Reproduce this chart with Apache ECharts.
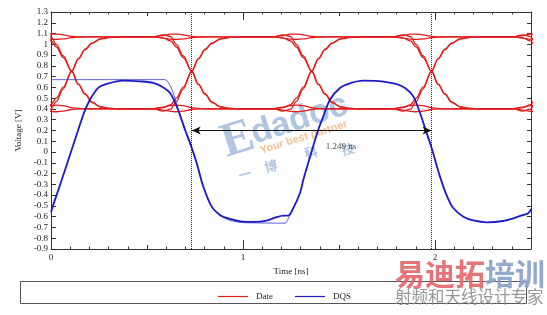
<!DOCTYPE html>
<html><head><meta charset="utf-8">
<script src="https://cdn.jsdelivr.net/npm/echarts@6/dist/echarts.min.js"></script>
<style>html,body{margin:0;padding:0;background:#fff}#c{width:547px;height:315px}</style>
</head><body><div id="c"></div>
<script>
// ---- data ----
const crossings = [0.108, 0.733, 1.358, 1.982, 2.607];      // red eye crossing times (ns)
const edgeOffsets = [-0.2,-0.15,-0.11,-0.08,-0.045,0,0.035,0.07,0.105,0.15,0.2,0.25];
const fallA   = [1.069,1.06,1.032,0.975,0.88,0.75,0.63,0.54,0.465,0.42,0.405,0.402];
const fallB   = [1.069,1.088,1.072,1.0,0.895,0.75,0.625,0.535,0.46,0.418,0.404,0.402];
const riseA   = [0.402,0.412,0.44,0.50,0.60,0.75,0.865,0.95,1.01,1.05,1.064,1.069];
const riseB   = [0.402,0.38,0.398,0.47,0.585,0.75,0.87,0.955,1.012,1.05,1.064,1.069];
const highUp  = [1.069,1.082,1.094,1.095,1.088,1.074,1.07,1.069,1.069,1.069,1.069,1.069];
const highDip = [1.069,1.058,1.048,1.045,1.05,1.062,1.067,1.069,1.069,1.069,1.069,1.069];
const lowDown = [0.402,0.39,0.378,0.374,0.38,0.395,0.4,0.402,0.402,0.402,0.402,0.402];
const lowUp   = [0.402,0.416,0.43,0.436,0.43,0.412,0.404,0.402,0.402,0.402,0.402,0.402];
const traceSpecs = [
  ['fallA','riseA','fallA','riseA','fallA'],
  ['riseA','fallA','riseA','fallA','riseA'],
  ['highUp','highUp','highUp','highUp','highUp'],
  ['lowDown','lowDown','lowDown','lowDown','lowDown'],
  ['highDip','fallB','lowUp','riseB','highDip'],
  ['lowUp','riseB','highDip','fallB','lowUp'],
  ['fallB','lowUp','riseB','highDip','fallB'],
  ['riseB','highDip','fallB','lowUp','riseB']
];
const dqsMeasured = [[0,-0.56],[0.01,-0.50],[0.05,-0.29],[0.10,-0.02],[0.142,0.207],[0.175,0.38],[0.203,0.486],[0.246,0.595],[0.29,0.632],[0.377,0.663],[0.464,0.656],[0.533,0.641],[0.585,0.60],[0.62,0.548],[0.655,0.424],[0.698,0.207],[0.733,0.04],[0.759,-0.103],[0.793,-0.32],[0.837,-0.507],[0.88,-0.584],[0.932,-0.621],[1.0,-0.646],[1.06,-0.648],[1.115,-0.64],[1.167,-0.609],[1.21,-0.59],[1.236,-0.59],[1.262,-0.52],[1.297,-0.38],[1.314,-0.26],[1.35,-0.04],[1.392,0.207],[1.418,0.33],[1.453,0.486],[1.505,0.595],[1.56,0.64],[1.627,0.663],[1.69,0.66],[1.748,0.65],[1.80,0.63],[1.844,0.595],[1.887,0.517],[1.922,0.362],[1.948,0.223],[1.982,0.04],[2.026,-0.228],[2.06,-0.40],[2.095,-0.52],[2.148,-0.60],[2.2,-0.635],[2.27,-0.652],[2.356,-0.64],[2.4,-0.62],[2.443,-0.593],[2.486,-0.568],[2.5,-0.53]];
const dqsIdeal = [[0,0.672],[0.594,0.672],[0.62,0.62],[0.646,0.50],[0.66,0.41],[0.698,0.207],[0.759,-0.103],[0.793,-0.32],[0.837,-0.507],[0.88,-0.59],[0.932,-0.635],[1.0,-0.655],[1.219,-0.66],[1.245,-0.58],[1.27,-0.49],[1.297,-0.38]];
const markerTimes = [0.733, 1.982];
const arrowLevel = 0.2;
const deltaLabel = ['1.249 ns', 1.51, 0.052];
const xLabelValues = [0, 1, 2];
const seriesNames = ['Date', 'DQS'];

// ---- build ----
const RED = '#e41c1c', BLUE = '#1a1ac8', SERIF = '"Liberation Serif","DejaVu Serif",serif';
const shapes = {fallA, fallB, riseA, riseB, highUp, highDip, lowDown, lowUp};
function buildTrace(spec){
  const pts = [];
  spec.forEach((name,k)=>{
    const c = crossings[k];
    edgeOffsets.forEach((o,i)=>pts.push([+(c+o).toFixed(4), shapes[name][i]]));
  });
  return pts;
}
const series = traceSpecs.map(spec=>({
  type:'line', name:seriesNames[0], data:buildTrace(spec), showSymbol:false, symbol:'none',
  smooth:0.35, smoothMonotone:'x', color:RED, lineStyle:{color:RED, width:1.3}, itemStyle:{color:RED}, z:2
}));
series.push({type:'line', name:seriesNames[1], data:dqsMeasured, symbol:'none', smooth:0.3, color:BLUE,
  lineStyle:{color:BLUE, width:1.8}, itemStyle:{color:BLUE}, z:4});
series.push({type:'line', name:seriesNames[1], data:dqsIdeal, symbol:'none', smooth:0.2, color:BLUE,
  lineStyle:{color:'#4a4ad8', width:0.9}, itemStyle:{color:BLUE}, z:3});
series.push({type:'scatter', name:'annot', data:[[deltaLabel[1], deltaLabel[2]]], symbolSize:0, z:5,
  label:{show:true, formatter:deltaLabel[0], position:'inside', color:'#111', fontFamily:SERIF, fontSize:9},
  markLine:{silent:true, symbol:'none', label:{show:false}, animation:false,
    lineStyle:{color:'#222', type:'dotted', width:1},
    data: markerTimes.map(t=>({xAxis:t})).concat([[
      {coord:[markerTimes[0], arrowLevel], symbol:'arrow', symbolSize:[6,9], lineStyle:{type:'solid', color:'#111', width:1}},
      {coord:[markerTimes[1], arrowLevel], symbol:'arrow', symbolSize:[6,9]}
    ]])
  }
});

const tickCol = '#333';
function xAx(pos, interval, len, labels, minor){
  return {type:'value', position:pos, min:0, max:2.5, interval:interval,
    axisLine:{show:labels, onZero:false, lineStyle:{color:tickCol}},
    axisTick:{show:true, inside:true, length:len, lineStyle:{color:tickCol}},
    minorTick:{show:minor, splitNumber:5, length:2.5, lineStyle:{color:tickCol}},
    splitLine:{show:false}, minorSplitLine:{show:false},
    axisLabel:{show:labels && pos==='bottom', formatter:v=>xLabelValues.indexOf(Math.round(v*1000)/1000)>=0?String(v):'',
      fontFamily:SERIF, fontSize:9, color:'#222', margin:4},
    name: (labels && pos==='bottom') ? 'Time [ns]' : '', nameLocation:'middle', nameGap:18,
    nameTextStyle:{fontFamily:SERIF, fontSize:9, color:'#222'}
  };
}
function yAx(pos, len, labels){
  return {type:'value', position:pos, min:-0.9, max:1.3, interval:0.1,
    axisLine:{show:true, onZero:false, lineStyle:{color:tickCol}},
    axisTick:{show:true, inside:true, length:len, lineStyle:{color:tickCol}},
    splitLine:{show:false},
    axisLabel:{show:labels, fontFamily:SERIF, fontSize:9, color:'#222', margin:3,
      formatter:v=>String(Math.round(v*10)/10)},
    name: labels ? 'Voltage [V]' : '', nameLocation:'middle', nameGap:28, nameRotate:90,
    nameTextStyle:{fontFamily:SERIF, fontSize:9, color:'#222'}
  };
}
const WM = 'rgba(110,150,200,0.55)';
const option = {
  animation:false, backgroundColor:'#fff', color:[RED, BLUE],
  grid:{left:51, right:16, top:12, bottom:66, show:false},
  xAxis:[xAx('bottom',0.5,4,true,true), xAx('bottom',1,9,false,false), xAx('top',0.5,4,true,true), xAx('top',1,8,false,false)],
  yAxis:[yAx('left',5,true), yAx('right',4,false)],
  legend:{data:[{name:'Date', itemStyle:{color:RED, borderWidth:0}}, {name:'DQS', itemStyle:{color:BLUE, borderWidth:0}}],
    icon:'rect', left:213, top:287, itemWidth:30, itemHeight:1.2, itemGap:22,
    textStyle:{fontFamily:SERIF, fontSize:9, color:'#222', padding:[0,0,0,3]}},
  graphic:[
    {type:'rect', z:1, shape:{x:20.5, y:281.5, width:506, height:22}, style:{fill:'none', stroke:'#555', lineWidth:1}},
    {type:'text', z:1, x:230, y:168, rotation:0.31, style:{text:'E', font:'bold 48px "Liberation Serif"', fill:WM, textVerticalAlign:'bottom'}},
    {type:'text', z:1, x:257, y:151, rotation:0.31, style:{text:'dadoc', font:'bold 34px "Liberation Sans"', fill:WM, textVerticalAlign:'bottom'}},
    {type:'text', z:1, x:262, y:156, rotation:0.30, style:{text:'Your best partner', font:'bold 11px "Liberation Sans"', fill:'rgba(240,150,80,0.6)', textVerticalAlign:'bottom'}},
    {type:'text', z:1, x:240, y:182, rotation:0.24, style:{text:'一', font:'bold 13px "Noto Sans CJK SC"', fill:WM, textVerticalAlign:'bottom'}},
    {type:'text', z:1, x:266, y:174, rotation:0.24, style:{text:'博', font:'bold 13px "Noto Sans CJK SC"', fill:WM, textVerticalAlign:'bottom'}},
    {type:'text', z:1, x:306, y:160, rotation:0.24, style:{text:'科', font:'bold 13px "Noto Sans CJK SC"', fill:WM, textVerticalAlign:'bottom'}},
    {type:'text', z:1, x:343, y:157, rotation:0.24, style:{text:'技', font:'bold 13px "Noto Sans CJK SC"', fill:WM, textVerticalAlign:'bottom'}},
    {type:'text', z:6, x:395, y:274, style:{text:'易迪拓', font:'bold 30px "Noto Sans CJK SC"', fill:'rgba(226,100,105,0.9)', textVerticalAlign:'middle'}},
    {type:'text', z:6, x:485, y:274, style:{text:'培训', font:'bold 30px "Noto Sans CJK SC"', fill:'rgba(135,160,200,0.9)', textVerticalAlign:'middle'}},
    {type:'text', z:6, x:395, y:297, style:{text:'射频和天线设计专家', font:'16.5px "Noto Sans CJK SC"', fill:'rgba(140,140,140,0.9)', textVerticalAlign:'middle'}}
  ],
  series:series
};
const chart = echarts.init(document.getElementById('c'), null, {renderer:'canvas'});
chart.setOption(option);
</script></body></html>
